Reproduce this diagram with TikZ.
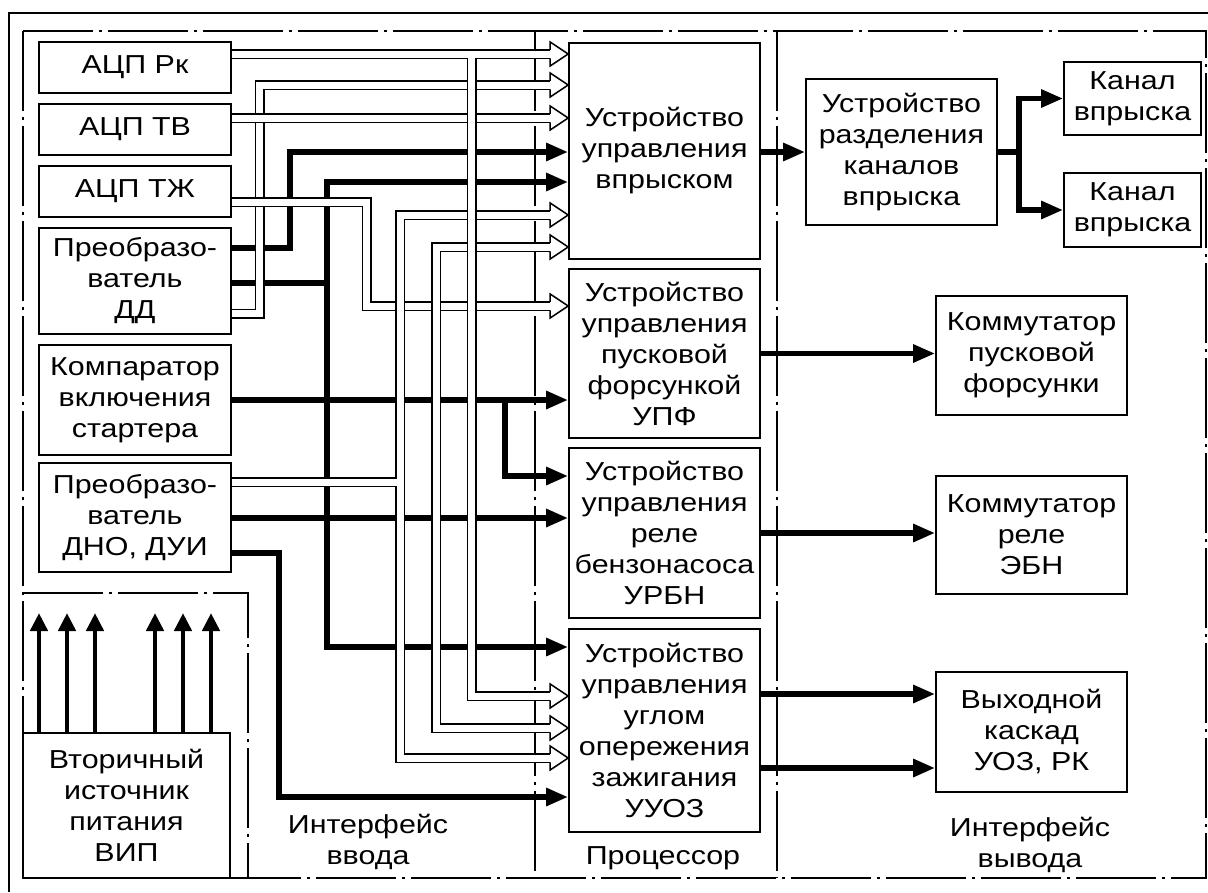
\documentclass[tikz,border=0pt]{standalone}
\usepackage{fontspec}
\setmainfont[FakeStretch=1.17]{Liberation Sans}
\usetikzlibrary{arrows.meta}
\newcommand\hhead[1]{\begin{scope}[shift={(#1)}]
  \fill[white] (-18,-12) -- (0,0) -- (-18,12) -- cycle;
  \draw[line width=1.5pt, line join=miter] (-18,-4.25) -- (-18,-12) -- (0,0) -- (-18,12) -- (-18,4.25);
\end{scope}}
\newcommand\busline[1]{\draw[busout] #1; \draw[busin] #1;}
\begin{document}
\begin{tikzpicture}[x=1pt,y=-1pt,
  txt/.style={font=\fontsize{26}{31}\selectfont, align=center, inner sep=0pt},
  box/.style={txt, draw, line width=1.6pt},
  lbox/.style={box, minimum width=192pt},
  pbox/.style={box, minimum width=191pt},
  obox/.style={box, minimum width=191pt},
  frame/.style={line width=1.5pt, dash pattern=on 80pt off 6pt on 3pt off 6pt},
  thk/.style={line width=5.5pt},
  tarr/.style={thk, -{Triangle[length=22pt,width=17pt]}},
  tarr2/.style={thk, {Triangle[length=22pt,width=17pt]}-{Triangle[length=22pt,width=17pt]}},
  busout/.style={line width=10pt, black},
  busin/.style={line width=7pt, white}
]
\useasboundingbox (0,0) rectangle (1208,892);
% frames
\draw[line width=1.5pt] (1208,13) -- (9,13) -- (9,892);
\draw[frame] (23,31) rectangle (1206,878);
\draw[frame] (535,31) -- (535,878);
\draw[frame] (777,31) -- (777,878);
\draw[frame] (23,593) -- (248,593) -- (248,878);

% input boxes
\node[lbox, minimum height=51pt] (rk) at (135,67.5) {АЦП Рк};
\node[lbox, minimum height=51pt] (tv) at (135,129.5) {АЦП ТВ};
\node[lbox, minimum height=51pt] (tzh) at (135,191.5) {АЦП ТЖ};
\node[lbox, minimum height=106pt] (dd) at (135,281) {Преобразо-\\ватель\\ДД};
\node[lbox, minimum height=110pt] (komp) at (135,400) {Компаратор\\включения\\стартера};
\node[lbox, minimum height=109pt] (dno) at (135,517.5) {Преобразо-\\ватель\\ДНО, ДУИ};
\node[box, minimum width=207pt, minimum height=145pt] (vip) at (126.5,805.5) {Вторичный\\источник\\питания\\ВИП};

% processor boxes
\node[pbox, minimum height=216pt] (uv) at (664.5,151) {Устройство\\управления\\впрыском};
\node[pbox, minimum height=169pt] (upf) at (664.5,353.5) {Устройство\\управления\\пусковой\\форсункой\\УПФ};
\node[pbox, minimum height=170pt] (urbn) at (664.5,533) {Устройство\\управления\\реле\\бензонасоса\\УРБН};
\node[pbox, minimum height=203pt] (uuoz) at (664.5,730.5) {Устройство\\управления\\углом\\опережения\\зажигания\\УУОЗ};

% output boxes
\node[obox, minimum height=146pt] (razd) at (901.5,152) {Устройство\\разделения\\каналов\\впрыска};
\node[box, minimum width=137pt, minimum height=73pt] (kan1) at (1132.5,98.5) {Канал\\впрыска};
\node[box, minimum width=137pt, minimum height=74pt] (kan2) at (1132.5,210) {Канал\\впрыска};
\node[obox, minimum height=119pt] (kpf) at (1031.5,355.5) {Коммутатор\\пусковой\\форсунки};
\node[obox, minimum height=118pt] (kreb) at (1031.5,535) {Коммутатор\\реле\\ЭБН};
\node[obox, minimum height=120pt] (vyh) at (1031.5,732) {Выходной\\каскад\\УОЗ, РК};

% labels
\node[txt] (lin) at (368,842) {Интерфейс\\ввода};
\node[txt] (lproc) at (663,858) {Процессор};
\node[txt] (lout) at (1030,845) {Интерфейс\\вывода};

% thick connectors
\draw[tarr] (dd.east |- 0,248) -- (290,248) -- (290,152) -- (uv.west |- 0,152);
\draw[thk] (dd.east |- 0,283) -- (327,283);
\draw[tarr2] (uv.west |- 0,182) -- (327,182) -- (327,647) -- (uuoz.west |- 0,647);
\draw[tarr] (komp.east) -- (komp.east -| upf.west);
\draw[tarr] (505,398) -- (505,476) -- (urbn.west |- 0,476);
\draw[tarr] (dno.east |- 0,518) -- (urbn.west |- 0,518);
\draw[tarr] (dno.east |- 0,553) -- (279,553) -- (279,797) -- (uuoz.west |- 0,797);
\draw[tarr] (uv.east |- razd.west) -- (razd.west);
\draw[thk] (razd.east) -- (1019,152);
\draw[tarr2] (kan1.west) -- (kan1.west -| 1019,0) -- (kan2.west -| 1019,0) -- (kan2.west);
\draw[tarr] (upf.east) -- (upf.east -| kpf.west);
\draw[tarr] (urbn.east) -- (urbn.east -| kreb.west);
\draw[tarr] (uuoz.east |- 0,694) -- (vyh.west |- 0,694);
\draw[tarr] (uuoz.east |- 0,768) -- (vyh.west |- 0,768);
\foreach \x in {39,67,95,155,183,211}
  \draw[line width=4.5pt, -{Triangle[length=18pt,width=17pt]}] (vip.north -| \x,0) -- (\x,613);

% hollow buses
\busline{(dd.east |- 0,313.5) -- (259.5,313.5) -- (259.5,85) -- (551,85)}
\busline{(tv.east |- 0,118) -- (551,118)}
\busline{(tzh.east |- 0,202) -- (366.5,202) -- (366.5,306) -- (551,306)}
\busline{(551,247) -- (436,247) -- (436,728) -- (551,728)}
\busline{(dno.east |- 0,482) -- (400,482) (551,215) -- (400,215) -- (400,758) -- (551,758)}
\busline{(rk.east |- 0,54) -- (551,54) (471.5,54) -- (471.5,696) -- (551,696)}

\hhead{uv.west |- 0,54}
\hhead{uv.west |- 0,85}
\hhead{uv.west |- 0,118}
\hhead{uv.west |- 0,215}
\hhead{uv.west |- 0,247}
\hhead{upf.west |- 0,306}
\hhead{uuoz.west |- 0,696}
\hhead{uuoz.west |- 0,728}
\hhead{uuoz.west |- 0,758}
\end{tikzpicture}
\end{document}
